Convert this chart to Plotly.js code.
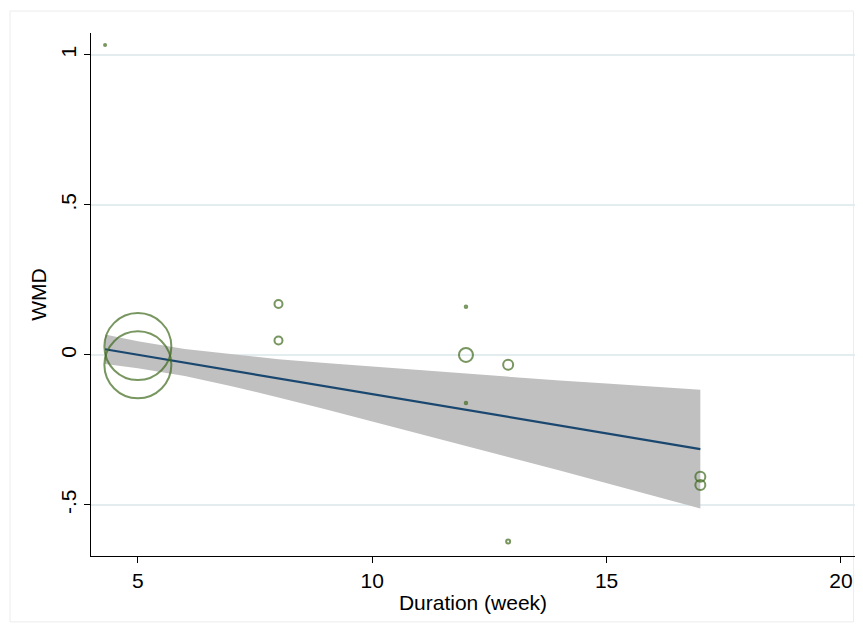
<!DOCTYPE html>
<html>
<head>
<meta charset="utf-8">
<script src="https://cdn.plot.ly/plotly-3.0.1.min.js"></script>
<style>html,body{margin:0;padding:0;background:#fff;}#chart{width:863px;height:633px;}</style>
</head>
<body>
<div id="chart"></div>
<script>
// Studies (bubble plot)
const studyDuration = [4.3, 5, 5, 8, 8, 12, 12, 12.9, 12, 12.9, 17, 17];
const studyWMD      = [1.033, 0.028, -0.033, 0.17, 0.048, 0.161, 0.0, -0.033, -0.16, -0.622, -0.406, -0.433];
const studyWeight   = [2, 67, 67, 8, 8, 2.5, 14, 10, 2.5, 4, 10, 10];

// Fitted line
const fitX = [4.3, 17];
const fitY = [0.019, -0.314];

// Confidence band
const bandX     = [4.3, 5, 6, 7, 8, 9, 10, 11, 12, 13, 14, 15, 16, 17];
const bandUpper = [0.068, 0.046, 0.020, 0.002, -0.014, -0.027, -0.039, -0.051, -0.063, -0.074, -0.085, -0.095, -0.105, -0.116];
const bandLower = [-0.030, -0.044, -0.070, -0.104, -0.142, -0.181, -0.221, -0.261, -0.303, -0.344, -0.385, -0.427, -0.469, -0.512];

const xTicks = [5, 10, 15, 20];
const xTickText = ["5", "10", "15", "20"];
const yTicks = [-0.5, 0, 0.5, 1];
const yTickText = ["-.5", "0", ".5", "1"];

const FONT = "'Liberation Sans', Arial, sans-serif";

const traces = [
  {
    x: bandX.concat(bandX.slice().reverse()),
    y: bandUpper.concat(bandLower.slice().reverse()),
    type: 'scatter', mode: 'lines', fill: 'toself',
    fillcolor: '#c0c0c0', line: {width: 0, color: '#c0c0c0'},
    hoverinfo: 'skip', showlegend: false
  },
  {
    x: fitX, y: fitY, type: 'scatter', mode: 'lines',
    line: {color: '#1a476f', width: 2.2}, showlegend: false
  },
  {
    x: studyDuration, y: studyWMD, type: 'scatter', mode: 'markers',
    marker: {
      symbol: 'circle-open', size: studyWeight,
      color: '#3f6a1c', line: {color: '#3f6a1c', width: 2}
    },
    showlegend: false
  }
];

const layout = {
  width: 863, height: 633,
  paper_bgcolor: '#ffffff', plot_bgcolor: '#ffffff',
  margin: {l: 91, r: 8, t: 33, b: 77},
  font: {family: FONT, size: 21, color: '#000'},
  showlegend: false,
  xaxis: {
    range: [4.0, 20.3], tickvals: xTicks, ticktext: xTickText,
    showgrid: false, zeroline: false,
    showline: true, linecolor: '#000', linewidth: 1,
    ticks: 'outside', ticklen: 6, tickcolor: '#000',
    tickfont: {family: FONT, size: 21},
    title: {text: 'Duration (week)', font: {family: FONT, size: 21}, standoff: 4}
  },
  yaxis: {
    range: [-0.67, 1.073], tickvals: yTicks, ticktext: yTickText,
    showgrid: true, gridcolor: '#e3ecef', gridwidth: 1.5,
    zeroline: false,
    showline: true, linecolor: '#000', linewidth: 1,
    ticks: 'outside', ticklen: 6, tickcolor: '#000',
    tickangle: -90,
    tickfont: {family: FONT, size: 21},
    title: {text: 'WMD', font: {family: FONT, size: 21}, standoff: 4}
  },
  shapes: [
    {type: 'rect', xref: 'paper', yref: 'paper',
     x0: -0.106, x1: 0.998, y0: -0.126, y1: 1.042,
     line: {color: '#ececec', width: 1}, fillcolor: 'rgba(0,0,0,0)', layer: 'below'}
  ]
};

Plotly.newPlot('chart', traces, layout, {displayModeBar: false, responsive: false});
</script>
</body>
</html>
